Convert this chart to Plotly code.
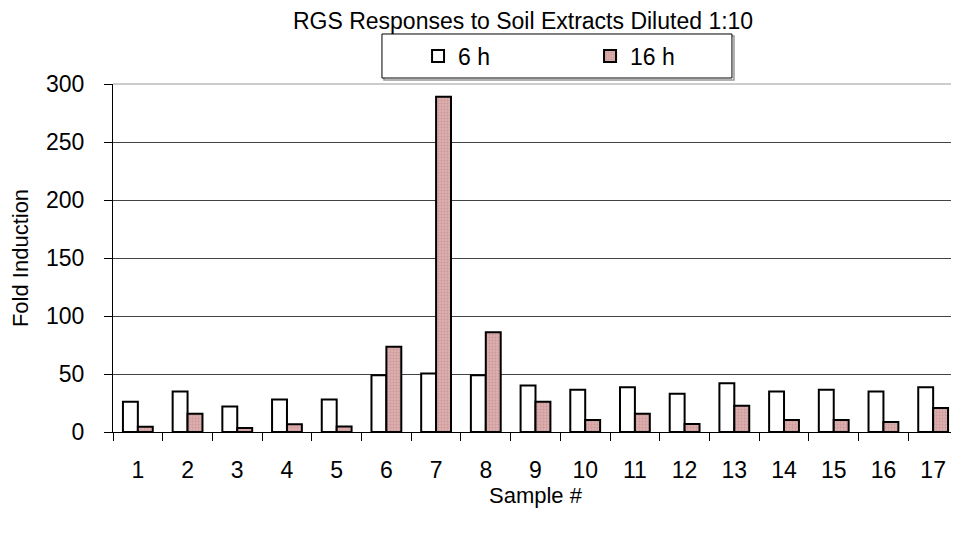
import plotly.graph_objects as go

samples = [str(i) for i in range(1, 18)]
h6 = [26, 35, 22, 28, 28, 49, 50.5, 49, 40, 36.5, 38.5, 33, 42, 35, 36.5, 35, 38.5]
h16 = [4.6, 15.8, 3.4, 6.6, 4.8, 73.5, 289, 86, 26, 10.3, 15.8, 6.9, 22.7, 10.3, 10.3, 8.6, 20.7]
y_ticks = [0, 50, 100, 150, 200, 250, 300]

FONT = "Liberation Sans, Arial, sans-serif"

fig = go.Figure()
fig.add_trace(go.Bar(
    x=samples, y=h6, name="6 h",
    marker=dict(color="white", line=dict(color="black", width=2)),
))
fig.add_trace(go.Bar(
    x=samples, y=h16, name="16 h",
    marker=dict(color="#dcaeae", line=dict(color="black", width=2),
                pattern=dict(shape=".", fgcolor="#b98383", size=3, solidity=0.35)),
))

fig.update_layout(
    width=951, height=525,
    margin=dict(l=105, r=1, t=76, b=101),
    paper_bgcolor="white", plot_bgcolor="white",
    font=dict(family=FONT, color="black", size=22),
    barmode="group", bargap=0.4, bargroupgap=0,
    title=dict(text="RGS Responses to Soil Extracts Diluted 1:10",
               x=0.5416, xanchor="center", y=0.976, yanchor="middle",
               font=dict(size=23, family=FONT)),
    showlegend=True,
    legend=dict(orientation="h", x=0.361, xanchor="left", y=1.0805, yanchor="middle",
                borderwidth=0, bgcolor="rgba(0,0,0,0)",
                font=dict(size=23, family=FONT), entrywidth=127),
    xaxis=dict(
        type="category", showline=True, linecolor="black", linewidth=1,
        ticks="outside", tickson="boundaries", ticklen=8, tickcolor="black",
        tickfont=dict(size=23), ticklabelstandoff=17, showgrid=False,
        title=dict(text="Sample #", font=dict(size=22), standoff=3),
    ),
    yaxis=dict(
        range=[0, 300], tickvals=y_ticks, showline=True, linecolor="black", linewidth=1,
        ticks="outside", ticklen=8, tickcolor="black", tickfont=dict(size=23),
        ticklabelstandoff=15,
        showgrid=True, gridcolor="#444444", gridwidth=1, zeroline=False,
        title=dict(text="Fold Induction", font=dict(size=22), standoff=17),
    ),
    shapes=[
        dict(type="line", xref="paper", yref="paper", x0=0, x1=1, y0=1, y1=1,
             line=dict(color="#999999", width=1), layer="above"),
        dict(type="line", xref="paper", yref="paper", x0=1, x1=1, y0=0, y1=1,
             line=dict(color="#aaaaaa", width=1)),
        # legend frame with shadow
        dict(type="rect", xref="paper", yref="paper", x0=0.3207, x1=0.7349,
             y0=1.0115, y1=1.138, line=dict(color="#999999", width=1.5)),
        dict(type="rect", xref="paper", yref="paper", x0=0.3183, x1=0.7325,
             y0=1.0172, y1=1.1437, fillcolor="white", line=dict(color="black", width=1)),
    ],
)

fig.write_html("out.html")
